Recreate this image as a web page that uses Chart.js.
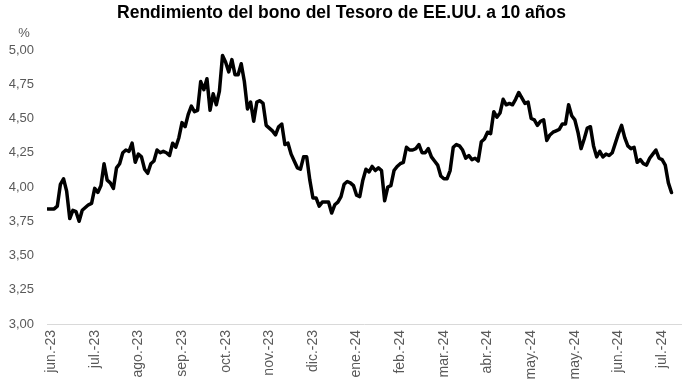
<!DOCTYPE html>
<html>
<head>
<meta charset="utf-8">
<script src="https://cdn.jsdelivr.net/npm/chart.js@4.4.1/dist/chart.umd.min.js"></script>
<style>
  html, body { margin: 0; padding: 0; background: #fff; }
  #wrap { width: 685px; height: 382px; }
</style>
</head>
<body>
<div id="wrap"><canvas id="bond-chart"></canvas></div>
<script>
// Rendimiento diario (%), de izquierda a derecha
const yields = [
  3.84, 3.84, 3.84, 3.86, 4.02, 4.06, 3.97, 3.77, 3.83, 3.82,
  3.75, 3.83, 3.85, 3.87, 3.88, 3.99, 3.96, 4.01, 4.17, 4.05,
  4.03, 3.99, 4.14, 4.17, 4.25, 4.27, 4.26, 4.32, 4.18, 4.24,
  4.22, 4.13, 4.10, 4.17, 4.19, 4.27, 4.25, 4.26, 4.25, 4.23,
  4.32, 4.29, 4.36, 4.47, 4.44, 4.53, 4.59, 4.55, 4.56, 4.77,
  4.71, 4.79, 4.56, 4.68, 4.60, 4.70, 4.96, 4.91, 4.84, 4.93,
  4.82, 4.82, 4.90, 4.77, 4.57, 4.62, 4.48, 4.62, 4.63, 4.61,
  4.45, 4.43, 4.41, 4.38, 4.44, 4.46, 4.31, 4.32, 4.24, 4.19,
  4.14, 4.13, 4.22, 4.22, 4.05, 3.92, 3.92, 3.86, 3.89, 3.89,
  3.89, 3.81, 3.87, 3.89, 3.93, 4.02, 4.04, 4.03, 4.01, 3.94,
  3.93, 4.05, 4.13, 4.11, 4.15, 4.12, 4.14, 4.12, 3.90, 4.00,
  4.01, 4.12, 4.15, 4.17, 4.18, 4.29, 4.27, 4.27, 4.28, 4.31,
  4.25, 4.25, 4.28, 4.22, 4.19, 4.16, 4.08, 4.06, 4.06, 4.12,
  4.29, 4.31, 4.30, 4.27, 4.21, 4.23, 4.20, 4.21, 4.19, 4.33,
  4.35, 4.40, 4.39, 4.55, 4.51, 4.54, 4.64, 4.60, 4.61, 4.60,
  4.64, 4.69, 4.65, 4.61, 4.62, 4.50, 4.49, 4.45, 4.48, 4.49,
  4.34, 4.38, 4.40, 4.41, 4.42, 4.46, 4.46, 4.60, 4.52, 4.49,
  4.40, 4.28, 4.35, 4.43, 4.44, 4.30, 4.22, 4.26, 4.22, 4.24,
  4.23, 4.25, 4.32, 4.39, 4.45, 4.36, 4.30, 4.28, 4.29, 4.18,
  4.20, 4.17, 4.16, 4.21, 4.24, 4.27, 4.21, 4.20, 4.16, 4.03,
  3.96
];

// Etiquetas del eje X (una cada 14 observaciones, empezando en la segunda)
const monthLabels = ['jun.-23', 'jul.-23', 'ago.-23', 'sep.-23', 'oct.-23', 'nov.-23', 'dic.-23',
  'ene.-24', 'feb.-24', 'mar.-24', 'abr.-24', 'may.-24', 'may.-24', 'jun.-24', 'jul.-24'];
const labelStep = 14;
const firstLabel = 1;

const yMin = 3;
const yMax = 5;
const yStep = 0.25;

const tickGrey = '#595959';

// "%" encima del eje Y
const percentLabel = {
  id: 'percentLabel',
  afterDraw(chart) {
    let ctx = chart.ctx;
    ctx.save();
    ctx.fillStyle = tickGrey;
    ctx.font = '13px "Liberation Sans"';
    ctx.textAlign = 'center';
    ctx.textBaseline = 'middle';
    ctx.fillText('%', 24, 33);
    ctx.restore();
  }
};

let ctx = document.getElementById('bond-chart').getContext('2d');
new Chart(ctx, {
  type: 'line',
  data: {
    datasets: [{
      data: yields.map((v, i) => ({ x: i, y: v })),
      borderColor: '#000000',
      borderWidth: 3.5,
      borderJoinStyle: 'round',
      borderCapStyle: 'round',
      pointRadius: 0,
      tension: 0,
      fill: false
    }]
  },
  options: {
    responsive: true,
    maintainAspectRatio: false,
    animation: false,
    layout: { padding: { left: 0, right: 2, top: 0, bottom: 0 } },
    plugins: {
      legend: { display: false },
      tooltip: { enabled: false },
      title: {
        display: true,
        text: 'Rendimiento del bono del Tesoro de EE.UU. a 10 años',
        color: '#000000',
        font: { family: 'Liberation Sans', size: 17.5, weight: 'bold' },
        padding: { top: 3, bottom: 26 }
      }
    },
    scales: {
      x: {
        type: 'linear',
        min: -0.3,
        max: 203.2,
        grid: { display: false, drawTicks: false },
        border: { display: true, color: '#d9d9d9', width: 1 },
        afterBuildTicks(scale) {
          scale.ticks = monthLabels.map((_, k) => ({ value: firstLabel + k * labelStep }));
        },
        afterFit(scale) { scale.height = 58; },
        ticks: {
          autoSkip: false,
          maxRotation: 90,
          minRotation: 90,
          padding: 6,
          color: tickGrey,
          font: { family: 'Liberation Sans', size: 14 },
          callback: (value, index) => monthLabels[index]
        }
      },
      y: {
        min: yMin,
        max: yMax,
        grid: { display: false, drawTicks: false },
        border: { display: false },
        afterFit(scale) { scale.width = 47; },
        ticks: {
          stepSize: yStep,
          padding: 13,
          color: tickGrey,
          font: { family: 'Liberation Sans', size: 13 },
          callback: (value) => value.toFixed(2).replace('.', ',')
        }
      }
    }
  },
  plugins: [percentLabel]
});
</script>
</body>
</html>
